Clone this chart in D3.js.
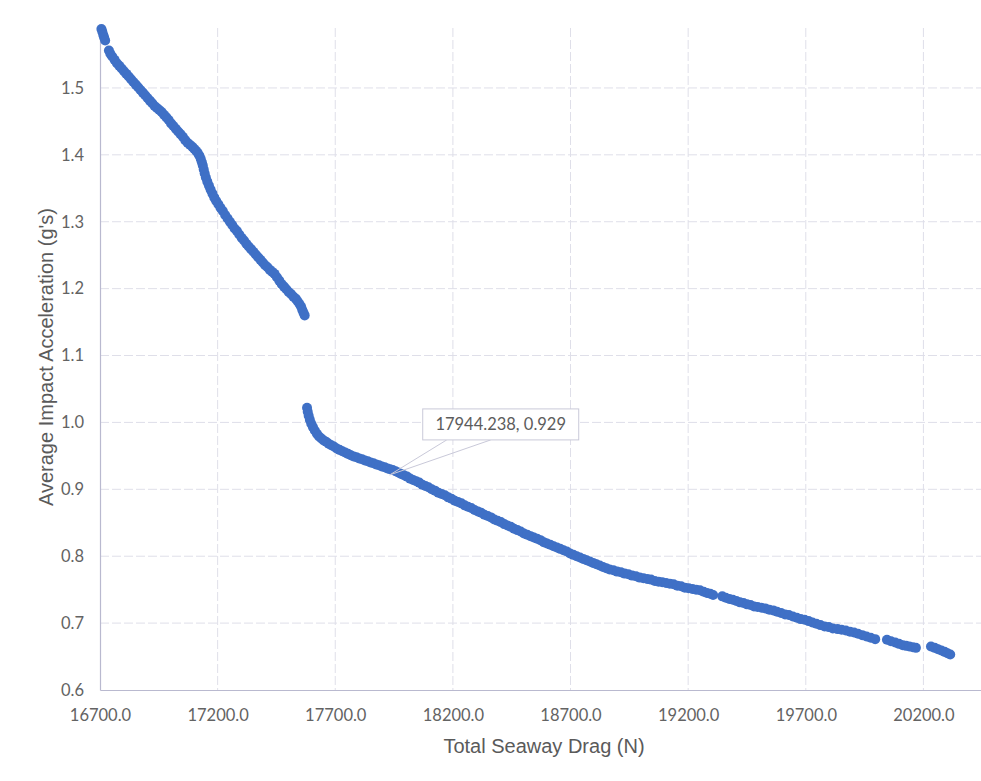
<!DOCTYPE html>
<html>
<head>
<meta charset="utf-8">
<script src="https://cdn.jsdelivr.net/npm/d3@7"></script>
<style>
  html, body { margin: 0; padding: 0; background: #ffffff; }
  svg { display: block; }
</style>
</head>
<body>
<svg id="chart" width="981" height="781"></svg>
<script>
// Total seaway drag (N) vs. average impact acceleration (g's)
// Branch before the jump in the response
const upperBranch = [
  [16706,1.588],[16710,1.584],[16714,1.579],[16718,1.575],[16722,1.571],
  [16738,1.556],[16744,1.551],[16752,1.547],[16762,1.542],[16772,1.537],
  [16782,1.533],[16792,1.529],[16802,1.525],[16812,1.521],[16822,1.517],
  [16832,1.513],[16842,1.509],[16852,1.505],[16862,1.501],[16872,1.497],
  [16882,1.493],[16892,1.489],[16902,1.485],[16912,1.481],[16922,1.477],
  [16932,1.473],[16942,1.470],[16952,1.467],[16962,1.464],[16972,1.460],
  [16982,1.456],[16992,1.452],[17002,1.447],[17012,1.443],[17022,1.439],
  [17032,1.435],[17042,1.431],[17052,1.427],[17062,1.422],[17072,1.418],
  [17082,1.415],[17092,1.412],[17100,1.409],[17108,1.406],[17115,1.403],
  [17122,1.399],[17128,1.394],[17133,1.389],[17137,1.384],[17141,1.378],
  [17145,1.372],[17150,1.366],[17156,1.360],[17163,1.354],[17170,1.348],
  [17178,1.342],[17186,1.336],[17194,1.331],[17203,1.326],[17212,1.321],
  [17222,1.316],[17232,1.310],[17242,1.305],[17252,1.300],[17262,1.295],
  [17272,1.290],[17282,1.286],[17292,1.281],[17302,1.276],[17312,1.272],
  [17322,1.267],[17332,1.263],[17342,1.259],[17352,1.255],[17362,1.251],
  [17372,1.247],[17382,1.243],[17392,1.239],[17402,1.235],[17412,1.232],
  [17422,1.228],[17432,1.225],[17442,1.222],[17452,1.217],[17462,1.212],
  [17472,1.207],[17482,1.203],[17492,1.199],[17502,1.195],[17512,1.192],
  [17522,1.188],[17532,1.185],[17540,1.181],[17548,1.177],[17555,1.173],
  [17560,1.168],[17565,1.164],[17570,1.160]
];

// Branch after the jump
const lowerBranch = [
  [17580,1.022],[17583,1.016],[17587,1.010],[17592,1.004],[17598,0.998],
  [17605,0.993],[17613,0.988],[17622,0.983],[17631,0.979],[17641,0.976],
  [17651,0.973],[17661,0.971],[17672,0.968],[17683,0.966],[17694,0.964],
  [17706,0.961],[17718,0.959],[17730,0.957],[17742,0.955],[17754,0.953],
  [17766,0.951],[17778,0.949],[17790,0.948],[17802,0.946],[17814,0.945],
  [17826,0.943],[17838,0.942],[17850,0.940],[17862,0.939],[17874,0.937],
  [17886,0.936],[17898,0.934],[17910,0.933],[17922,0.931],[17933,0.930],
  [17944.238,0.929],[17956,0.927],[17968,0.925],[17980,0.923],[17992,0.921],
  [18005,0.919],[18018,0.916],[18031,0.914],[18044,0.912],[18057,0.910],
  [18070,0.907],[18083,0.905],[18096,0.903],[18110,0.900],[18124,0.898],
  [18138,0.895],[18152,0.893],[18166,0.891],[18180,0.888],[18194,0.886],
  [18208,0.883],[18222,0.881],[18236,0.879],[18250,0.876],[18264,0.874],
  [18278,0.872],[18292,0.869],[18306,0.867],[18320,0.865],[18334,0.862],
  [18348,0.860],[18362,0.858],[18376,0.855],[18390,0.853],[18404,0.851],
  [18418,0.848],[18432,0.846],[18446,0.844],[18460,0.841],[18474,0.839],
  [18488,0.837],[18502,0.834],[18516,0.832],[18530,0.830],[18544,0.828],
  [18558,0.826],[18572,0.824],[18586,0.821],[18600,0.819],[18614,0.817],
  [18628,0.815],[18642,0.813],[18656,0.811],[18670,0.809],[18684,0.807],
  [18698,0.804],[18712,0.802],[18726,0.800],[18740,0.798],[18754,0.796],
  [18768,0.794],[18782,0.792],[18796,0.790],[18810,0.788],[18824,0.786],
  [18838,0.784],[18852,0.782],[18866,0.780],[18882,0.779],[18898,0.777],
  [18914,0.776],[18930,0.774],[18946,0.773],[18962,0.771],[18978,0.770],
  [18994,0.768],[19010,0.767],[19026,0.766],[19042,0.765],[19058,0.763],
  [19074,0.762],[19090,0.761],[19106,0.760],[19122,0.759],[19138,0.758],
  [19154,0.756],[19170,0.755],[19186,0.753],[19202,0.752],[19218,0.751],
  [19234,0.750],[19250,0.749],[19266,0.747],[19280,0.745],[19294,0.744],
  [19306,0.742],
  [19345,0.740],[19360,0.738],[19375,0.736],[19390,0.735],[19405,0.733],
  [19420,0.731],[19435,0.730],[19450,0.728],[19465,0.727],[19480,0.725],
  [19495,0.724],[19512,0.723],[19528,0.722],[19545,0.720],[19562,0.719],
  [19578,0.717],[19595,0.715],[19612,0.713],[19628,0.712],[19645,0.710],
  [19662,0.708],[19678,0.706],[19695,0.705],[19712,0.703],[19728,0.701],
  [19745,0.699],[19762,0.697],[19780,0.695],[19798,0.694],[19815,0.692],
  [19835,0.691],[19852,0.690],[19870,0.689],[19888,0.687],[19905,0.686],
  [19922,0.684],[19940,0.682],[19958,0.680],[19976,0.678],[19995,0.676],
  [20045,0.675],[20062,0.673],[20080,0.671],[20096,0.669],[20112,0.667],
  [20126,0.666],[20140,0.665],[20155,0.664],[20168,0.663],
  [20232,0.665],[20248,0.663],[20262,0.661],[20276,0.659],[20290,0.657],
  [20302,0.655],[20314,0.653]
];

// Axis ticks
const dragTicks = [16700, 17200, 17700, 18200, 18700, 19200, 19700, 20200];
const accelTicks = [0.6, 0.7, 0.8, 0.9, 1.0, 1.1, 1.2, 1.3, 1.4, 1.5];

// Point carrying a data label
const labelledPoint = [17944.238, 0.929];

const xTitle = "Total Seaway Drag (N)";
const yTitle = "Average Impact Acceleration (g's)";

const svg = d3.select("#chart");
const W = 981, H = 781;

const plot = { left: 100, right: 994, top: 28, bottom: 690 };

const x = d3.scaleLinear().domain([16700, 20500]).range([plot.left, plot.right]);
const y = d3.scaleLinear().domain([0.6, 1.5896]).range([plot.bottom, plot.top]);

const fmt1 = d3.format(".1f");
const fmt3 = d3.format(".3f");

const gridColor = "#dfdfe9";
const axisColor = "#b9b9cf";
const tickText = "#636363";

// horizontal gridlines
svg.append("g")
  .selectAll("line")
  .data(accelTicks.filter(d => d > 0.6))
  .join("line")
  .attr("x1", plot.left).attr("x2", W)
  .attr("y1", d => y(d)).attr("y2", d => y(d))
  .attr("stroke", gridColor)
  .attr("stroke-width", 1)
  .attr("stroke-dasharray", "9 3");

// vertical gridlines
svg.append("g")
  .selectAll("line")
  .data(dragTicks.filter(d => d > 16700))
  .join("line")
  .attr("x1", d => x(d)).attr("x2", d => x(d))
  .attr("y1", plot.top).attr("y2", plot.bottom)
  .attr("stroke", gridColor)
  .attr("stroke-width", 1)
  .attr("stroke-dasharray", "9 3");

// y axis (line + labels)
const yAxis = d3.axisLeft(y).tickValues(accelTicks).tickFormat(fmt1).tickSize(0).tickPadding(16);
const gy = svg.append("g").attr("transform", `translate(${plot.left},0)`).call(yAxis);
gy.select(".domain").attr("stroke", axisColor).attr("stroke-width", 1.2);
gy.selectAll("text")
  .attr("fill", tickText)
  .style("font-family", "Lato, 'Open Sans', sans-serif")
  .style("font-size", "16.5px");

// x axis (line + labels)
const xAxis = d3.axisBottom(x).tickValues(dragTicks).tickFormat(fmt1).tickSize(0).tickPadding(19);
const gx = svg.append("g").attr("transform", `translate(0,${plot.bottom})`).call(xAxis);
gx.select(".domain").attr("stroke", axisColor).attr("stroke-width", 1.2);
gx.selectAll("text")
  .attr("fill", tickText)
  .style("font-family", "Lato, 'Open Sans', sans-serif")
  .style("font-size", "16.5px");

// axis titles
svg.append("text")
  .attr("x", 544).attr("y", 753)
  .attr("text-anchor", "middle")
  .attr("fill", "#5a5a5a")
  .style("font-family", "'Liberation Sans', Arial, sans-serif")
  .style("font-size", "20px")
  .text(xTitle);

svg.append("text")
  .attr("transform", "translate(53,357) rotate(-90)")
  .attr("text-anchor", "middle")
  .attr("fill", "#5a5a5a")
  .style("font-family", "'Liberation Sans', Arial, sans-serif")
  .style("font-size", "20px")
  .text(yTitle);

// scatter markers
const allPoints = upperBranch.concat(lowerBranch);
svg.append("g")
  .selectAll("circle")
  .data(allPoints)
  .join("circle")
  .attr("cx", d => x(d[0]))
  .attr("cy", d => y(d[1]))
  .attr("r", 5)
  .attr("fill", "#3f70c6");

// data label with leader
const px = x(labelledPoint[0]), py = y(labelledPoint[1]);
const box = { x: px + 30, y: py - 61, w: 156, h: 31 };
const leader = svg.append("g").attr("fill", "none").attr("stroke", "#c9c9d9").attr("stroke-width", 1);
leader.append("line")
  .attr("x1", px - 3).attr("y1", py + 5)
  .attr("x2", box.x + 24).attr("y2", box.y + box.h);
leader.append("line")
  .attr("x1", px - 3).attr("y1", py + 5)
  .attr("x2", box.x + 68).attr("y2", box.y + box.h);
svg.append("rect")
  .attr("x", box.x).attr("y", box.y)
  .attr("width", box.w).attr("height", box.h)
  .attr("fill", "#ffffff")
  .attr("stroke", "#c9c9d9")
  .attr("stroke-width", 1);
svg.append("text")
  .attr("x", box.x + box.w / 2).attr("y", box.y + box.h / 2 + 6)
  .attr("text-anchor", "middle")
  .attr("fill", "#5c5c5c")
  .style("font-family", "Lato, 'Open Sans', sans-serif")
  .style("font-size", "16.5px")
  .text(`${fmt3(labelledPoint[0])}, ${fmt3(labelledPoint[1])}`);
</script>
</body>
</html>
